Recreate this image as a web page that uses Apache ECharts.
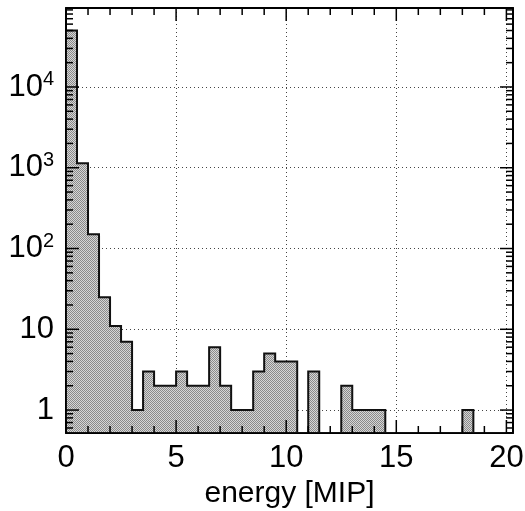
<!DOCTYPE html>
<html>
<head>
<meta charset="utf-8">
<script src="https://cdn.jsdelivr.net/npm/echarts@6/dist/echarts.min.js"></script>
<style>
  html, body { margin: 0; padding: 0; background: #fff; }
  #chart { width: 525px; height: 511px; }
</style>
</head>
<body>
<div id="chart"></div>
<script>
// ---- data ----
const BIN_WIDTH = 0.5;            // MIP per bin
const counts = [
  50000, 1135, 150, 25, 11, 7, 1, 3, 2, 2,
  3, 2, 2, 6, 2, 1, 1, 3, 5, 4,
  4, 0, 3, 0, 0, 2, 1, 1, 1, 0,
  0, 0, 0, 0, 0, 0, 1, 0, 0, 0
];
const xTickValues = [0, 5, 10, 15, 20];
const yTickValues = [1, 10, 100, 1000, 10000];
const xAxisName = 'energy [MIP]';

const X_MIN = 0, X_MAX = 20.3;
const Y_MIN = 0.52, Y_MAX = 95000;

const FONT = "'Liberation Sans', Arial, Helvetica, sans-serif";

// dither-like fill pattern
const pat = document.createElement('canvas');
pat.width = 2; pat.height = 2;
(function () {
  const c = pat.getContext('2d');
  c.fillStyle = '#d6d6d6'; c.fillRect(0, 0, 2, 2);
  c.fillStyle = '#8a8a8a'; c.fillRect(0, 0, 1, 1); c.fillRect(1, 1, 1, 1);
})();

// minor tick positions
const xMinor = [];
for (let v = 1; v < 20; v++) if (v % 5 !== 0) xMinor.push(v);
const yMinor = [];
for (let d = 0.1; d < 1e5; d *= 10) {
  for (let m = 2; m <= 9; m++) {
    const v = +(m * d).toPrecision(6);
    if (v > Y_MIN && v < Y_MAX) yMinor.push(v);
  }
}

function isPow10(v) {
  const e = Math.log10(v);
  return Math.abs(e - Math.round(e)) < 1e-6 ? Math.round(e) : null;
}

const chart = echarts.init(document.getElementById('chart'), null, { renderer: 'canvas' });

const frameLine = { show: true, onZero: false, lineStyle: { color: '#000', width: 2 } };
const gridDots = { show: true, lineStyle: { color: '#444', width: 1, type: [1, 3] } };

chart.setOption({
  animation: false,
  backgroundColor: '#fff',
  grid: { left: 66, right: 12, top: 8, bottom: 78, containLabel: false, outerBoundsMode: 'none' },
  xAxis: [
    {
      type: 'value', min: X_MIN, max: X_MAX, interval: 5, position: 'bottom',
      axisLine: frameLine, axisTick: { show: false },
      axisLabel: {
        fontSize: 31, color: '#000', fontFamily: FONT, margin: 10,
        formatter: v => (xTickValues.indexOf(v) >= 0 ? String(v) : '')
      },
      splitLine: {
        show: true,
        lineStyle: { color: '#444', width: 1, type: [1, 3] }
      },
      name: xAxisName, nameLocation: 'middle', nameGap: 44,
      nameTextStyle: { fontSize: 30, color: '#000', fontFamily: FONT }
    },
    {
      type: 'value', min: X_MIN, max: X_MAX, interval: 5, position: 'top',
      axisLine: frameLine, axisTick: { show: false },
      axisLabel: { show: false }, splitLine: { show: false }
    }
  ],
  yAxis: [
    {
      type: 'log', logBase: 10, min: Y_MIN, max: Y_MAX, position: 'left',
      axisLine: frameLine, axisTick: { show: false },
      axisLabel: {
        fontSize: 31, color: '#000', fontFamily: FONT, margin: 12,
        formatter: v => {
          const e = isPow10(v);
          if (e === null) return '';
          if (e === 0) return '1';
          if (e === 1) return '10';
          return '10{s|' + e + '}';
        },
        rich: { s: { fontSize: 20, fontFamily: FONT, color: '#000', verticalAlign: 'top', padding: [0, 0, 14, 0] } }
      },
      splitLine: {
        show: true,
        lineStyle: { color: '#444', width: 1, type: [1, 3] }
      }
    },
    {
      type: 'log', logBase: 10, min: Y_MIN, max: Y_MAX, position: 'right',
      axisLine: frameLine, axisTick: { show: false },
      axisLabel: { show: false }, splitLine: { show: false }
    }
  ],
  series: [
    {
      type: 'custom', name: 'hist', xAxisIndex: 0, yAxisIndex: 0, clip: true, z: 2,
      data: [[0, 1]],
      renderItem: function (params, api) {
        const bottom = api.coord([X_MIN, Y_MIN])[1];
        const pts = [];
        pts.push([api.coord([0, Y_MIN])[0], bottom]);
        for (let i = 0; i < counts.length; i++) {
          const x0 = api.coord([i * BIN_WIDTH, Y_MIN])[0];
          const x1 = api.coord([(i + 1) * BIN_WIDTH, Y_MIN])[0];
          const y = counts[i] > 0 ? api.coord([i * BIN_WIDTH, counts[i]])[1] : bottom;
          pts.push([x0, y], [x1, y]);
        }
        pts.push([api.coord([counts.length * BIN_WIDTH, Y_MIN])[0], bottom]);
        return {
          type: 'polygon',
          shape: { points: pts },
          style: { fill: { image: pat, repeat: 'repeat' }, stroke: '#111', lineWidth: 2, lineJoin: 'miter' }
        };
      }
    },
    {
      type: 'custom', name: 'ticks', xAxisIndex: 0, yAxisIndex: 0, clip: false, z: 5, silent: true,
      data: [[0, 1]],
      renderItem: function (params, api) {
        const cs = params.coordSys;
        const L = cs.x, R = cs.x + cs.width, T = cs.y, B = cs.y + cs.height;
        const children = [];
        const ls = { stroke: '#000', lineWidth: 1.5 };
        function vtick(v, len) {
          const x = api.coord([v, Y_MIN])[0];
          children.push({ type: 'line', shape: { x1: x, y1: B, x2: x, y2: B - len }, style: ls });
          children.push({ type: 'line', shape: { x1: x, y1: T, x2: x, y2: T + len }, style: ls });
        }
        function htick(v, len) {
          const y = api.coord([X_MIN, v])[1];
          children.push({ type: 'line', shape: { x1: L, y1: y, x2: L + len, y2: y }, style: ls });
          children.push({ type: 'line', shape: { x1: R, y1: y, x2: R - len, y2: y }, style: ls });
        }
        xTickValues.forEach(v => vtick(v, 13));
        xMinor.forEach(v => vtick(v, 7));
        yTickValues.forEach(v => htick(v, 13));
        yMinor.forEach(v => htick(v, 7));
        return { type: 'group', children: children };
      }
    }
  ]
});
</script>
</body>
</html>
